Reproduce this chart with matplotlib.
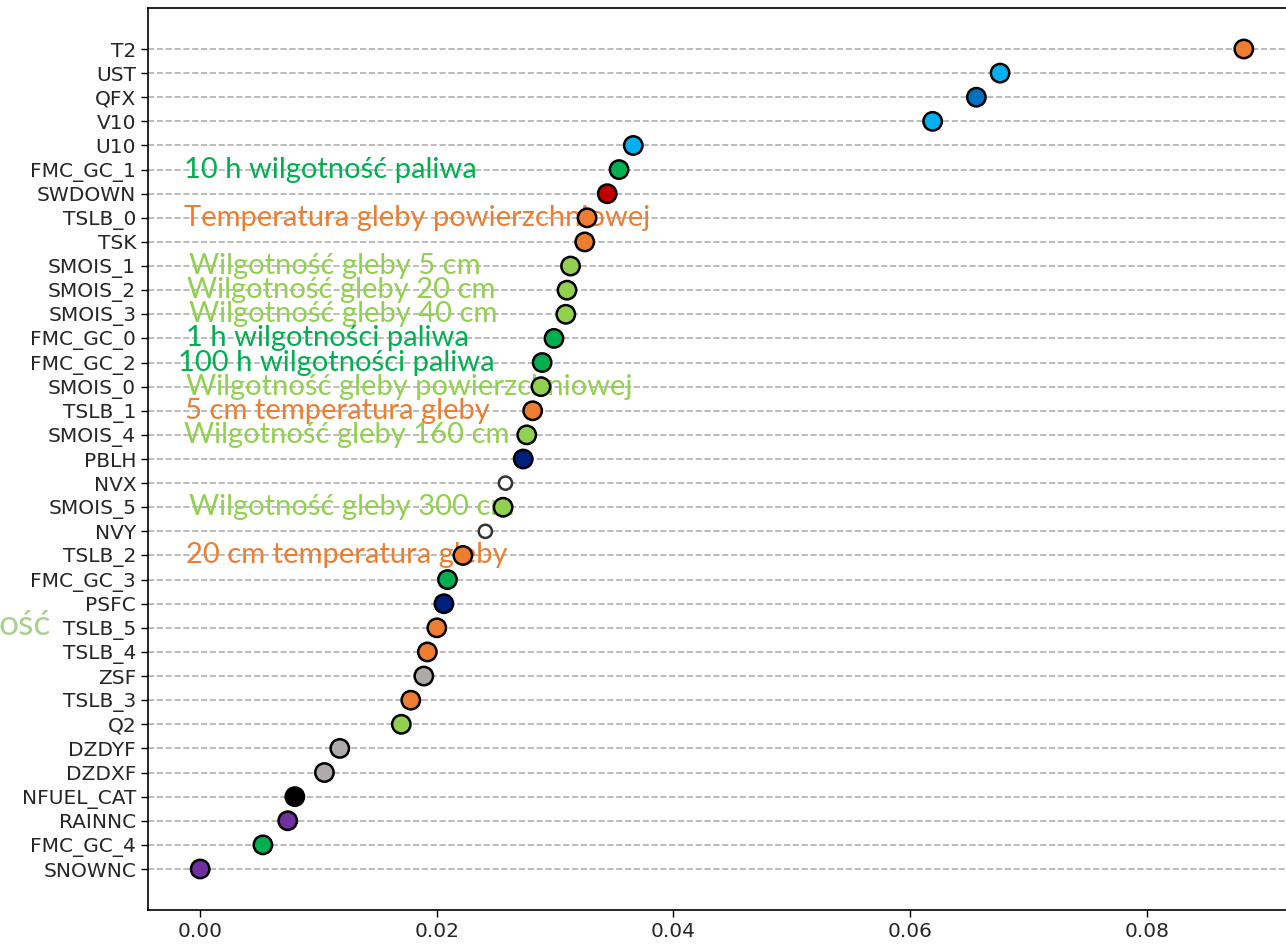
import matplotlib
matplotlib.use("Agg")
import matplotlib.pyplot as plt
import numpy as np

variables = ["T2", "UST", "QFX", "V10", "U10", "FMC_GC_1", "SWDOWN", "TSLB_0", "TSK",
             "SMOIS_1", "SMOIS_2", "SMOIS_3", "FMC_GC_0", "FMC_GC_2", "SMOIS_0", "TSLB_1",
             "SMOIS_4", "PBLH", "NVX", "SMOIS_5", "NVY", "TSLB_2", "FMC_GC_3", "PSFC",
             "TSLB_5", "TSLB_4", "ZSF", "TSLB_3", "Q2", "DZDYF", "DZDXF", "NFUEL_CAT",
             "RAINNC", "FMC_GC_4", "SNOWNC"]
importance = [0.0882, 0.0676, 0.0656, 0.0619, 0.0366, 0.0354, 0.0344, 0.0327, 0.0325,
              0.0313, 0.0310, 0.0309, 0.0299, 0.0289, 0.0288, 0.0281,
              0.0276, 0.0273, 0.0258, 0.0256, 0.0241, 0.0222, 0.0209, 0.0206,
              0.0200, 0.0192, 0.0189, 0.0178, 0.0170, 0.0118, 0.0105, 0.0080,
              0.0074, 0.0053, 0.0000]

ORANGE = "#ed7d31"
LBLUE = "#00b0f0"
BLUE = "#0070c0"
GREEN = "#00b050"
RED = "#c00000"
LGREEN = "#92d050"
NAVY = "#002080"
WHITE = "#ffffff"
GRAY = "#aeaaaa"
BLACK = "#000000"
PURPLE = "#7030a0"

colors = [ORANGE, LBLUE, BLUE, LBLUE, LBLUE, GREEN, RED, ORANGE, ORANGE,
          LGREEN, LGREEN, LGREEN, GREEN, GREEN, LGREEN, ORANGE,
          LGREEN, NAVY, WHITE, LGREEN, WHITE, ORANGE, GREEN, NAVY,
          ORANGE, ORANGE, GRAY, ORANGE, LGREEN, GRAY, GRAY, BLACK,
          PURPLE, GREEN, PURPLE]

annotations = [
    ("FMC_GC_1", "10 h wilgotność paliwa", GREEN, 185),
    ("TSLB_0", "Temperatura gleby powierzchniowej", ORANGE, 185),
    ("SMOIS_1", "Wilgotność gleby 5 cm", LGREEN, 190),
    ("SMOIS_2", "Wilgotność gleby 20 cm", LGREEN, 188),
    ("SMOIS_3", "Wilgotność gleby 40 cm", LGREEN, 190),
    ("FMC_GC_0", "1 h wilgotności paliwa", GREEN, 187),
    ("FMC_GC_2", "100 h wilgotności paliwa", GREEN, 179),
    ("SMOIS_0", "Wilgotność gleby powierzchniowej", LGREEN, 187),
    ("TSLB_1", "5 cm temperatura gleby", ORANGE, 186),
    ("SMOIS_4", "Wilgotność gleby 160 cm", LGREEN, 185),
    ("SMOIS_5", "Wilgotność gleby 300 cm", LGREEN, 190),
    ("TSLB_2", "20 cm temperatura gleby", ORANGE, 187),
]

W, H = 1286, 947
fig = plt.figure(figsize=(W / 100, H / 100), dpi=100)
ax = fig.add_axes([148 / W, 1 - 910 / H, (1296 - 148) / W, (910 - 8) / H])

n = len(variables)
ypos = np.arange(n)[::-1]

ax.grid(axis="y", linestyle="--", color="#b0b0b0", linewidth=1.2, zorder=0)
ax.set_axisbelow(True)

sizes = [90 if c == WHITE else 175 for c in colors]
edges = ["#333333" if c == WHITE else "black" for c in colors]
ax.scatter(importance, ypos, c=colors, s=sizes, edgecolors=edges, linewidths=1.8, zorder=3)

ax.set_yticks(ypos)
ax.set_yticklabels(variables, fontsize=14.5, color="#262626")
ax.set_xticks([0.0, 0.02, 0.04, 0.06, 0.08])
ax.set_xticklabels(["0.00", "0.02", "0.04", "0.06", "0.08"], fontsize=14.5, color="#262626")
ax.tick_params(axis="both", length=5, width=1)
for sp in ax.spines.values():
    sp.set_linewidth(1.2)

# map pixel x to data x for annotation placement
x0_px, px_per_unit = 201.0, 11822.0
for var, txt, col, xpx in annotations:
    yi = ypos[variables.index(var)]
    ax.text((xpx - x0_px) / px_per_unit, yi, txt, color=col, fontsize=21,
            family="Lato", va="center", ha="left", zorder=2)

# fragment of large text at the far left
fig.text(51 / W, 1 - 625 / H, "ość", color="#a9d18e", fontsize=25.5,
         family="Lato", ha="right", va="center")

fig.savefig("out.png", dpi=100)
